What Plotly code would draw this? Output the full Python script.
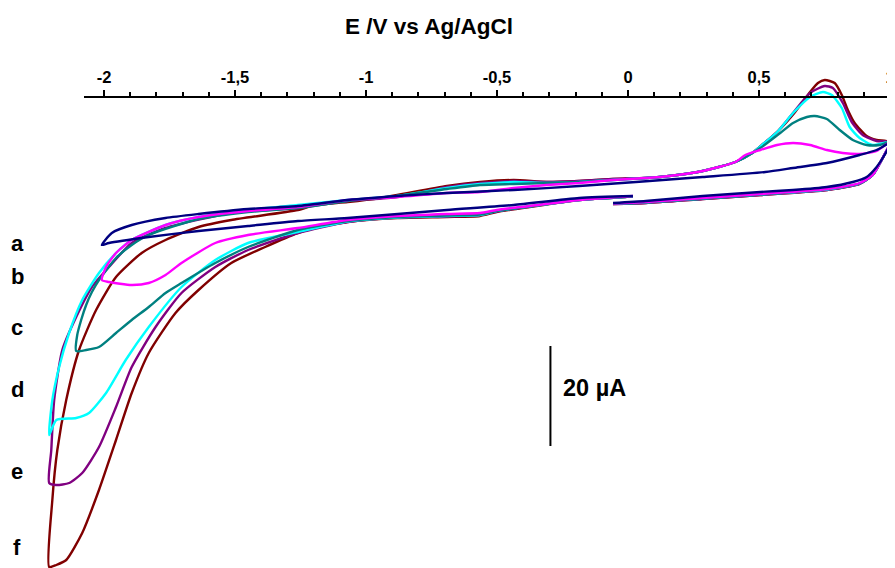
import plotly.graph_objects as go

# ---------------- data (E in V vs Ag/AgCl, I in µA) ----------------
# each path: start near 0 V -> negative sweep -> vertex -> positive sweep -> 1.0 V -> back toward 0 V
a_E = [0.019, -0.186, -0.436, -0.691, -1.070, -1.260, -1.450, -1.639, -1.829, -1.981, -2.008,
       -1.970, -1.894, -1.765, -1.639, -1.450, -1.260, -1.070, -0.880, -0.691, -0.436, -0.186, 0.030, 0.285, 0.524,
       0.630, 0.759, 0.884, 0.949, 1.0,
       0.979, 0.949, 0.911, 0.858, 0.759, 0.630, 0.505, 0.285, 0.068, -0.057]
a_I = [0.8, 0.4, -1.0, -2.0, -3.6, -4.2, -5.2, -6.2, -7.4, -8.6, -9.0,
       -6.6, -5.0, -3.6, -2.8, -1.8, -1.2, 0.0, 0.8, 1.4, 2.0, 2.8, 3.6, 4.6, 5.6,
       6.4, 7.4, 9.0, 10.0, 11.4,
       9.0, 6.6, 4.6, 3.6, 2.6, 2.0, 1.6, 0.8, -0.2, -0.6]

b_E = [0.019, -0.186, -0.376, -0.501, -0.565, -0.691, -0.880, -1.070, -1.260, -1.450, -1.575, -1.704, -1.765,
       -1.829, -1.894, -1.981, -2.008,
       -1.992, -1.954, -1.894, -1.765, -1.639, -1.450, -1.260, -1.070, -0.880, -0.691, -0.565, -0.436, -0.311,
       -0.186, -0.057, 0.068, 0.156, 0.285, 0.410, 0.448, 0.505, 0.569, 0.630, 0.695, 0.759, 0.820, 0.884, 0.949, 1.0,
       0.972, 0.934, 0.884, 0.759, 0.505, 0.285, 0.068, -0.057]
b_I = [0.8, 0.0, -1.2, -2.0, -2.6, -2.8, -3.2, -4.0, -5.6, -7.0, -8.6, -12.6, -15.0,
       -16.6, -17.0, -16.4, -16.0,
       -13.4, -10.6, -8.0, -5.0, -3.4, -2.2, -1.4, 0.0, 0.6, 1.4, 1.6, 2.4, 3.0,
       3.4, 4.0, 4.4, 4.8, 5.8, 7.6, 9.0, 10.0, 11.0, 11.4, 11.0, 10.0, 9.4, 9.2, 9.8, 11.6,
       8.4, 5.0, 3.4, 2.2, 1.2, 0.4, -0.4, -0.7]

c_E = [0.019, -0.186, -0.376, -0.501, -0.565, -0.691, -0.880, -1.070, -1.260, -1.450, -1.575, -1.704, -1.765,
       -1.829, -1.894, -1.954, -2.019, -2.068, -2.106,
       -2.102, -2.087, -2.068, -2.046, -2.019, -1.954, -1.894, -1.829, -1.639, -1.450, -1.260, -1.070, -0.880,
       -0.691, -0.565, -0.436, -0.311, -0.186, -0.057, 0.068, 0.156, 0.285, 0.410, 0.505, 0.581, 0.630, 0.683,
       0.713, 0.759, 0.808, 0.858, 0.911, 0.960, 1.0,
       0.972, 0.934, 0.884, 0.759, 0.505, 0.285, 0.068, -0.057]
c_I = [0.7, 0.0, -1.3, -2.2, -2.9, -3.1, -3.4, -4.2, -6.0, -9.4, -12.6, -16.6, -18.6,
       -21.4, -24.0, -26.6, -29.4, -30.0, -30.2,
       -27.0, -24.0, -21.0, -18.4, -16.0, -11.6, -9.0, -7.0, -3.8, -2.4, -1.6, -0.2, 0.8,
       2.2, 3.0, 3.2, 3.4, 3.6, 4.0, 4.4, 4.8, 5.8, 7.6, 10.4, 13.4, 15.4, 16.6,
       16.8, 16.2, 14.0, 12.0, 11.0, 11.0, 11.6,
       8.4, 5.0, 3.3, 2.2, 1.1, 0.3, -0.5, -0.7]

d_E = [0.019, -0.186, -0.376, -0.501, -0.565, -0.691, -0.880, -1.070, -1.260, -1.450, -1.575, -1.704, -1.829,
       -1.917, -1.992, -2.057, -2.106, -2.182, -2.209,
       -2.197, -2.171, -2.133, -2.083, -2.019, -1.954, -1.894, -1.765, -1.639, -1.450, -1.260, -1.070, -0.880,
       -0.691, -0.565, -0.436, -0.311, -0.186, -0.057, 0.068, 0.156, 0.285, 0.410, 0.474, 0.516, 0.573, 0.630,
       0.695, 0.744, 0.778, 0.816, 0.846, 0.884, 0.934, 1.0,
       0.972, 0.934, 0.884, 0.759, 0.505, 0.285, 0.068, -0.057]
d_I = [0.7, 0.0, -1.3, -2.2, -3.0, -3.2, -3.5, -4.3, -6.4, -8.6, -12.0, -17.4, -25.4,
       -32.0, -38.6, -42.6, -43.6, -44.0, -47.0,
       -40.0, -33.4, -26.6, -20.0, -14.6, -10.6, -8.0, -5.0, -3.4, -2.0, -1.0, 0.0, 0.8,
       2.4, 3.2, 3.6, 3.4, 3.6, 4.0, 4.4, 4.8, 5.8, 7.6, 9.4, 11.2, 13.8, 17.4,
       20.6, 21.6, 21.0, 18.4, 14.6, 12.4, 11.0, 11.6,
       8.4, 5.0, 3.3, 2.1, 1.1, 0.3, -0.5, -0.7]

e_E = [0.019, -0.186, -0.376, -0.501, -0.565, -0.691, -0.880, -1.070, -1.260, -1.450, -1.575, -1.704, -1.803,
       -1.894, -1.954, -2.019, -2.083, -2.133, -2.182, -2.209,
       -2.201, -2.190, -2.159, -2.106, -2.046, -1.981, -1.894, -1.765, -1.514, -1.260, -1.070, -0.880, -0.691,
       -0.565, -0.436, -0.311, -0.186, -0.057, 0.068, 0.156, 0.285, 0.410, 0.474, 0.516, 0.573, 0.630, 0.695,
       0.751, 0.782, 0.820, 0.854, 0.896, 0.949, 1.0,
       0.972, 0.934, 0.884, 0.759, 0.505, 0.285, 0.068, -0.057]
e_I = [0.7, 0.0, -1.3, -2.3, -3.0, -3.3, -3.5, -4.4, -6.6, -10.0, -13.4, -18.6, -25.4,
       -33.4, -41.4, -49.4, -54.6, -56.6, -57.0, -56.6,
       -50.0, -40.0, -30.0, -23.4, -17.4, -13.4, -8.6, -5.6, -2.6, -1.6, -0.2, 0.6, 2.6,
       3.4, 3.8, 3.6, 3.8, 4.2, 4.4, 4.8, 5.8, 7.6, 9.4, 11.2, 13.8, 17.4, 21.4,
       22.8, 22.4, 19.4, 15.6, 13.0, 11.8, 11.6,
       8.4, 5.0, 3.2, 2.0, 1.0, 0.2, -0.6, -0.8]

f_E = [-0.008, -0.186, -0.376, -0.501, -0.565, -0.691, -0.880, -1.070, -1.195, -1.260, -1.385, -1.514, -1.639,
       -1.727, -1.829, -1.894, -1.954, -2.019, -2.083, -2.144, -2.182, -2.209,
       -2.197, -2.178, -2.144, -2.095, -2.030, -1.954, -1.856, -1.765, -1.639, -1.514, -1.260, -1.195, -1.070,
       -0.945, -0.691, -0.565, -0.436, -0.311, -0.186, -0.057, 0.068, 0.156, 0.285, 0.410, 0.474, 0.516, 0.573,
       0.638, 0.695, 0.725, 0.751, 0.789, 0.816, 0.839, 0.865, 0.911, 0.949, 1.0,
       0.972, 0.934, 0.884, 0.759, 0.505, 0.285, 0.068, -0.057]
f_I = [0.6, 0.0, -1.4, -2.4, -3.2, -3.4, -3.6, -4.4, -5.6, -6.6, -9.4, -12.6, -18.0,
       -22.6, -30.6, -38.6, -48.0, -58.0, -66.6, -72.0, -73.0, -73.4,
       -60.0, -50.0, -40.0, -30.0, -22.0, -15.4, -10.6, -8.0, -5.4, -4.0, -2.0, -1.0, -0.4,
       0.4, 2.8, 3.6, 4.0, 3.6, 3.8, 4.2, 4.4, 4.8, 5.8, 7.6, 9.4, 11.2, 13.8,
       17.6, 21.6, 23.4, 24.0, 23.4, 21.0, 18.0, 15.4, 12.8, 12.0, 11.6,
       8.4, 5.0, 3.2, 2.0, 1.0, 0.2, -0.6, -0.8]

curve_labels = ["a", "b", "c", "d", "e", "f"]
curve_colors = ["#000080", "#FF00FF", "#008080", "#00FFFF", "#800080", "#800000"]

tick_vals = [-2, -1.5, -1, -0.5, 0, 0.5, 1]
tick_text = ["-2", "-1,5", "-1", "-0,5", "0", "0,5", "1"]

scalebar_E = -0.296
scalebar_I = [-29.2, -49.2]
scalebar_text = "20 µA"
axis_title = "E /V vs Ag/AgCl"

# ---------------- figure ----------------
series = {"a": (a_E, a_I), "b": (b_E, b_I), "c": (c_E, c_I),
          "d": (d_E, d_I), "e": (e_E, e_I), "f": (f_E, f_I)}

fig = go.Figure()
for lab, col in reversed(list(zip(curve_labels, curve_colors))):
    E, I = series[lab]
    fig.add_trace(go.Scatter(x=E, y=I, mode="lines", name=lab,
                             line=dict(color=col, width=2.4, shape="spline", smoothing=0.6),
                             hoverinfo="skip"))

# scale bar
fig.add_trace(go.Scatter(x=[scalebar_E, scalebar_E], y=scalebar_I, mode="lines",
                         line=dict(color="black", width=2), hoverinfo="skip"))
# carrier trace for the top potential axis
fig.add_trace(go.Scatter(x=[], y=[], xaxis="x2", yaxis="y", mode="lines", hoverinfo="skip"))

FONT = "Liberation Sans, Arial, sans-serif"
# figure sits inside the page body's 8 px margin, so it is 887 x 560 and fills the window
FIG_W, FIG_H = 887, 560
x_main = [1.0 - FIG_W / 263.5, 1.0]
y_main = [-73.6, 38.4]


def xfrac(v):
    return (v - x_main[0]) / (x_main[1] - x_main[0])


def yfrac(v):
    return (v - y_main[0]) / (y_main[1] - y_main[0])


x2_range = [-2.0759, 1.0]

fig.update_layout(
    width=FIG_W, height=FIG_H,
    margin=dict(l=0, r=0, t=0, b=0),
    paper_bgcolor="white", plot_bgcolor="rgba(0,0,0,0)",
    showlegend=False,
    separators=",.",
    xaxis=dict(range=x_main, visible=False, showgrid=False, zeroline=False),
    yaxis=dict(range=y_main, visible=False, showgrid=False, zeroline=False),
    xaxis2=dict(domain=[xfrac(x2_range[0]), 1.0], range=x2_range,
                anchor="free", position=yfrac(20.6),
                side="top", showline=True, linecolor="black", linewidth=2,
                ticks="outside", ticklen=6, tickwidth=2, tickcolor="black",
                tickmode="array", tickvals=tick_vals, ticktext=tick_text,
                tickfont=dict(family=FONT, size=16.5, color="black", weight="bold"),
                minor=dict(tickmode="linear", tick0=0, dtick=0.1, ticks="outside",
                           ticklen=4, tickwidth=2, tickcolor="black"),
                showgrid=False, zeroline=False, ticklabeloverflow="allow"),
)

ann = [dict(text=axis_title, xref="x", yref="y", x=-0.760, y=34.8,
            xanchor="center", yanchor="middle", showarrow=False,
            font=dict(family=FONT, size=22.5, color="black", weight="bold")),
       dict(text=scalebar_text, xref="x", yref="y", x=-0.254, y=-37.6,
            xanchor="left", yanchor="middle", showarrow=False,
            font=dict(family=FONT, size=23.5, color="black", weight="bold"))]
label_y = [-8.6, -15.2, -25.4, -37.8, -54.2, -69.4]
for lab, ly in zip(curve_labels, label_y):
    ann.append(dict(text=lab, xref="x", yref="y", x=-2.33, y=ly, xanchor="center", yanchor="middle",
                    showarrow=False, font=dict(family=FONT, size=22, color="black", weight="bold")))
fig.update_layout(annotations=ann)

fig.write_html("out.html")
